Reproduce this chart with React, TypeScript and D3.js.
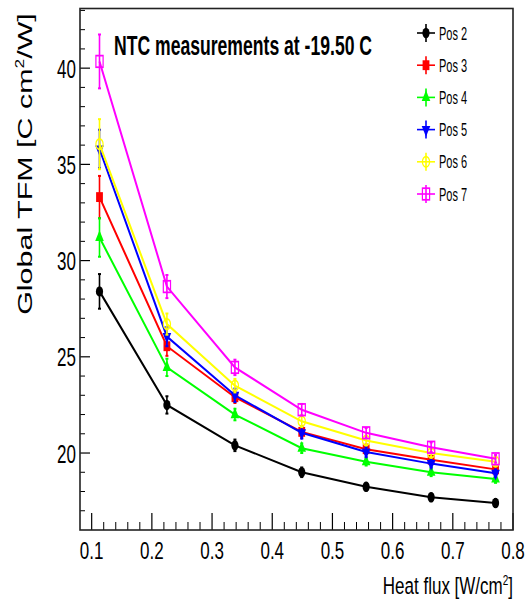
import React, { useEffect, useRef } from "react";
import * as d3 from "d3";

const heatFlux = [0.113, 0.225, 0.338, 0.449, 0.556, 0.664, 0.771];

const seriesNames = ["Pos 2", "Pos 3", "Pos 4", "Pos 5", "Pos 6", "Pos 7"];
const seriesColors = ["#000000", "#ff0000", "#00ff00", "#0000ff", "#ffff00", "#ff00ff"];

const pos2 = [28.4, 22.5, 20.4, 19.0, 18.25, 17.7, 17.4];
const pos3 = [33.3, 25.55, 22.9, 21.1, 20.2, 19.65, 19.15];
const pos4 = [31.2, 24.45, 22.0, 20.25, 19.55, 19.0, 18.65];
const pos5 = [35.8, 26.05, 23.0, 21.05, 20.05, 19.45, 18.95];
const pos6 = [36.05, 26.7, 23.5, 21.65, 20.65, 20.0, 19.55];
const pos7 = [40.35, 28.65, 24.45, 22.25, 21.05, 20.3, 19.7];

const err2 = [0.9, 0.45, 0.3, 0.25, 0.2, 0.2, 0.2];
const err3 = [1.1, 0.5, 0.3, 0.3, 0.25, 0.2, 0.2];
const err4 = [1.0, 0.45, 0.3, 0.25, 0.2, 0.2, 0.2];
const err5 = [1.0, 0.5, 0.35, 0.3, 0.25, 0.2, 0.2];
const err6 = [1.3, 0.55, 0.35, 0.3, 0.25, 0.2, 0.2];
const err7 = [1.4, 0.6, 0.4, 0.3, 0.25, 0.25, 0.2];

const seriesValues = [pos2, pos3, pos4, pos5, pos6, pos7];
const seriesErrors = [err2, err3, err4, err5, err6, err7];

const FONT = "'Liberation Sans', Arial, sans-serif";

// marker kinds: ROOT style circle, square, triangle up/down, open circle, open square
const markerKinds = ["circle", "square", "triUp", "triDown", "openCircle", "openSquare"];

const App = () => {
  const svgRef = useRef<SVGSVGElement>(null);

  useEffect(() => {
    const width = 528;
    const height = 603;
    const left = 80, right = 513, top = 8.5, bottom = 530;

    const svg = d3.select(svgRef.current)
      .attr("width", width)
      .attr("height", height)
      .style("background", "#fff");
    svg.selectAll("*").remove();

    const x = d3.scaleLinear().domain([0.0806, 0.8]).range([left, right]);
    const y = d3.scaleLinear().domain([16, 43.1]).range([bottom, top]);

    // text helper: the picture is stretched vertically, so stretch text too
    const addText = (tx, ty, str, size, sy, anchor = "start", weight = "normal") => {
      return svg.append("text")
        .attr("transform", `translate(${tx},${ty}) scale(1,${sy})`)
        .attr("text-anchor", anchor)
        .style("font-family", FONT)
        .style("font-size", size + "px")
        .style("font-weight", weight)
        .style("fill", "#000")
        .text(str);
    };

    // y ticks
    const yMajor = y.ticks(6);
    const yMinor = d3.range(17, 44, 1).filter(v => !yMajor.includes(v));
    yMajor.forEach(v => {
      svg.append("line").attr("x1", left).attr("x2", left + 10)
        .attr("y1", y(v)).attr("y2", y(v)).attr("stroke", "#000").attr("stroke-width", 1.2);
      addText(left - 4, y(v) + 9.5, String(v), 17, 1.5, "end");
    });
    yMinor.forEach(v => {
      svg.append("line").attr("x1", left).attr("x2", left + 5)
        .attr("y1", y(v)).attr("y2", y(v)).attr("stroke", "#000").attr("stroke-width", 1);
    });

    // x ticks
    const xMajor = x.ticks(8);
    const xMinor = x.ticks(40).filter(v => !xMajor.some(m => Math.abs(m - v) < 1e-6));
    xMajor.forEach(v => {
      svg.append("line").attr("x1", x(v)).attr("x2", x(v))
        .attr("y1", bottom).attr("y2", bottom - 17).attr("stroke", "#000").attr("stroke-width", 1.2);
      addText(x(v), 559, d3.format(".1f")(v), 17, 1.45, "middle");
    });
    xMinor.forEach(v => {
      svg.append("line").attr("x1", x(v)).attr("x2", x(v))
        .attr("y1", bottom).attr("y2", bottom - 8).attr("stroke", "#000").attr("stroke-width", 1);
    });

    // frame
    svg.append("rect")
      .attr("x", left).attr("y", top)
      .attr("width", right - left).attr("height", bottom - top)
      .attr("fill", "none").attr("stroke", "#222").attr("stroke-width", 1.6);

    const line = d3.line<number>()
      .x((d, i) => x(heatFlux[i]))
      .y(d => y(d));

    const drawMarker = (g, kind, color, cx, cy) => {
      const m = g.append("g").attr("transform", `translate(${cx},${cy}) scale(1,1.45)`);
      if (kind === "circle") {
        m.append("circle").attr("r", 3.6).attr("fill", color);
      } else if (kind === "square") {
        m.append("rect").attr("x", -3.4).attr("y", -3.4).attr("width", 6.8).attr("height", 6.8).attr("fill", color);
      } else if (kind === "triUp") {
        m.append("path").attr("d", d3.symbol(d3.symbolTriangle, 32)()).attr("fill", color);
      } else if (kind === "triDown") {
        m.append("path").attr("d", d3.symbol(d3.symbolTriangle, 32)())
          .attr("transform", "rotate(180)").attr("fill", color);
      } else if (kind === "openCircle") {
        m.append("circle").attr("r", 3.6).attr("fill", "none").attr("stroke", color).attr("stroke-width", 1.2);
      } else {
        m.append("rect").attr("x", -3.6).attr("y", -4).attr("width", 7.2).attr("height", 8)
          .attr("fill", "none").attr("stroke", color).attr("stroke-width", 1.2);
      }
    };

    seriesValues.forEach((vals, s) => {
      const color = seriesColors[s];
      const g = svg.append("g");
      g.append("path")
        .datum(vals)
        .attr("d", line)
        .attr("fill", "none")
        .attr("stroke", color)
        .attr("stroke-width", 2);
      vals.forEach((v, i) => {
        const e = seriesErrors[s][i];
        const cx = x(heatFlux[i]);
        g.append("line").attr("x1", cx).attr("x2", cx)
          .attr("y1", y(v - e)).attr("y2", y(v + e))
          .attr("stroke", color).attr("stroke-width", 1.6);
        [v - e, v + e].forEach(c => {
          g.append("line").attr("x1", cx - 1.5).attr("x2", cx + 1.5)
            .attr("y1", y(c)).attr("y2", y(c))
            .attr("stroke", color).attr("stroke-width", 2);
        });
        drawMarker(g, markerKinds[s], color, cx, y(v));
      });
    });

    // legend
    const legendRowY = d3.scaleLinear().domain([0, 5]).range([33, 194]);
    seriesNames.forEach((name, s) => {
      const color = seriesColors[s];
      const ly = legendRowY(s);
      const lx = 426;
      const g = svg.append("g");
      g.append("line").attr("x1", lx - 9).attr("x2", lx + 9).attr("y1", ly).attr("y2", ly)
        .attr("stroke", color).attr("stroke-width", 1.6);
      g.append("line").attr("x1", lx).attr("x2", lx).attr("y1", ly - 9).attr("y2", ly + 9)
        .attr("stroke", color).attr("stroke-width", 1.6);
      drawMarker(g, markerKinds[s], color, lx, ly);
      addText(439, ly + 6.5, name, 11, 1.65, "start");
    });

    // title
    addText(114, 55, "NTC measurements at -19.50 C", 17.6, 1.55, "start", "bold");

    // x axis label
    const xl = svg.append("text")
      .attr("transform", `translate(${right},594) scale(1,1.45)`)
      .attr("text-anchor", "end")
      .style("font-family", FONT)
      .style("font-size", "17px")
      .style("fill", "#000");
    xl.append("tspan").text("Heat flux [W/cm");
    xl.append("tspan").attr("dy", -6).style("font-size", "10px").text("2");
    xl.append("tspan").attr("dy", 6).text("]");

    // y axis label (rotated, stretched along its length)
    const yl = svg.append("text")
      .attr("transform", `translate(32,164) rotate(-90) scale(1.45,1)`)
      .attr("text-anchor", "middle")
      .style("font-family", FONT)
      .style("font-size", "21px")
      .style("fill", "#000");
    yl.append("tspan").text("Global TFM [C cm");
    yl.append("tspan").attr("dy", -8).style("font-size", "12px").text("2");
    yl.append("tspan").attr("dy", 8).text("/W]");
  }, []);

  return (
    <div style={{ position: "absolute", left: 0, top: 0 }}>
      <svg ref={svgRef}></svg>
    </div>
  );
};

export default App;
